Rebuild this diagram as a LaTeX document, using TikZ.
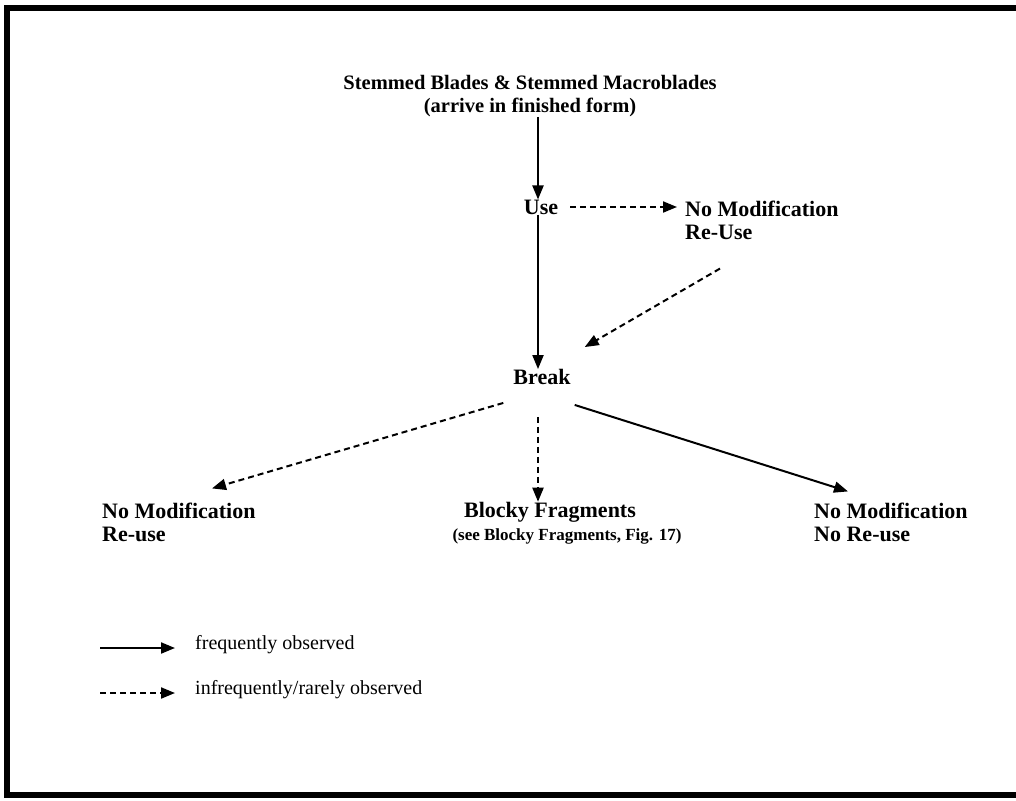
\documentclass[tikz,border=0pt]{standalone}
\usepackage{fontspec}
\setmainfont{Liberation Serif}
\usetikzlibrary{arrows.meta}
\begin{document}
\begin{tikzpicture}[x=1pt,y=-1pt,
  lbl/.style={font=\bfseries\fontsize{22}{23}\selectfont, inner sep=0pt},
  head/.style={font=\bfseries\fontsize{20.5}{23}\selectfont, inner sep=0pt},
  note/.style={font=\bfseries\fontsize{17}{19}\selectfont, inner sep=0pt},
  legtext/.style={font=\fontsize{20}{23}\selectfont, inner sep=0pt, anchor=west},
  often/.style={line width=2pt, -{Triangle[length=14pt,width=11pt]}},
  rare/.style={line width=2pt, dash pattern=on 6pt off 4pt, -{Triangle[length=14pt,width=11pt]}},
  frame/.style={line width=6pt}
]
\useasboundingbox (0,0) rectangle (1016,800);
\fill[white] (0,0) rectangle (1016,800);

% outer frame (open on the right)
\draw[frame] (1020,8) -- (7,8) -- (7,795) -- (1020,795);

% nodes
\node[head, align=center] (title) at (530,96)
  {Stemmed Blades \& Stemmed Macroblades\\(arrive in finished form)};
\node[lbl] (use) at (541,207) {Use};
\node[lbl, align=left, anchor=west] (nm1) at (685,220) {No Modification\\Re-Use};
\node[lbl] (brk) at (542,377) {Break};
\node[lbl, align=left, anchor=west] (nmL) at (102,522) {No Modification\\Re-use};
\node[lbl] (blocky) at (550,512) {Blocky Fragments};
\node[note] (blockyref) at (567,536) {(see Blocky Fragments, Fig. 17)};
\node[lbl, align=left, anchor=west] (nmR) at (814,522) {No Modification\\No Re-use};

% connectors
\draw[often] (title.south -| 538,0) -- (use.north -| 538,0);
\draw[often] (use.south -| 538,0) -- (brk.north -| 538,0);
\draw[rare, shorten <=12pt, shorten >=8pt] (use.east) -- (use.east -| nm1.west);
\draw[rare] ([shift={(35,29)}]nm1.south west) -- ([shift={(14,-22)}]brk.north east);
\draw[rare] ([shift={(-10,18)}]brk.south west) -- ([shift={(110,-14)}]nmL.north west);
\draw[rare] ([shift={(0,32)}]brk.south -| 538,0) -- (blocky.north -| 538,0);
\draw[often] ([shift={(4,20)}]brk.south east) -- ([shift={(34,-11)}]nmR.north west);

% legend
\node[legtext] (legA) at (195,645) {frequently observed};
\node[legtext] (legB) at (195,690) {infrequently/rarely observed};
\coordinate (legAstart) at (100,648);
\coordinate (legBstart) at (100,693);
\draw[often, shorten >=20pt] (legAstart) -- (legAstart -| legA.west);
\draw[rare, shorten >=20pt] (legBstart) -- (legBstart -| legB.west);
\end{tikzpicture}
\end{document}
